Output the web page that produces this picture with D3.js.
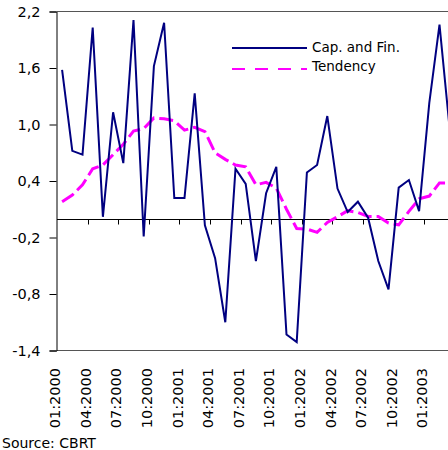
<!DOCTYPE html>
<html>
<head>
<meta charset="utf-8">
<script src="https://cdn.jsdelivr.net/npm/d3@7"></script>
<style>
  html, body { margin: 0; padding: 0; background: #fff; }
  svg { display: block; font-family: "DejaVu Sans", Verdana, sans-serif; }
</style>
</head>
<body>
<svg id="chart" width="448" height="450"></svg>
<script>
// Monthly categories, 01:2000 onwards
const months = [
  "01:2000","02:2000","03:2000","04:2000","05:2000","06:2000","07:2000","08:2000","09:2000","10:2000","11:2000","12:2000",
  "01:2001","02:2001","03:2001","04:2001","05:2001","06:2001","07:2001","08:2001","09:2001","10:2001","11:2001","12:2001",
  "01:2002","02:2002","03:2002","04:2002","05:2002","06:2002","07:2002","08:2002","09:2002","10:2002","11:2002","12:2002",
  "01:2003","02:2003","03:2003"
];

// Capital and financial account series
const capFin = [
  1.58, 0.72, 0.68, 2.03, 0.02, 1.13, 0.59, 2.11, -0.19, 1.62, 2.08, 0.22,
  0.22, 1.33, -0.07, -0.42, -1.10, 0.53, 0.37, -0.45, 0.27, 0.55, -1.23, -1.31,
  0.49, 0.57, 1.09, 0.32, 0.07, 0.18, 0.01, -0.45, -0.75, 0.33, 0.41, 0.08,
  1.23, 2.06, 0.95
];

// Tendency series
const tendency = [
  0.18, 0.25, 0.36, 0.53, 0.57, 0.68, 0.79, 0.93, 0.955, 1.07, 1.06, 1.04,
  0.94, 0.97, 0.925, 0.70, 0.63, 0.57, 0.55, 0.36, 0.385, 0.325, 0.10, -0.105,
  -0.11, -0.145, -0.04, 0.02, 0.085, 0.066, 0.024, 0.024, -0.047, -0.065, 0.077, 0.21,
  0.24, 0.38, 0.38
];

const yTicks = [-1.4, -0.8, -0.2, 0.4, 1.0, 1.6, 2.2];
const yTickLabels = ["-1,4", "-0,8", "-0,2", "0,4", "1,0", "1,6", "2,2"];
const xTickLabels = ["01:2000","04:2000","07:2000","10:2000","01:2001","04:2001","07:2001",
                     "10:2001","01:2002","04:2002","07:2002","10:2002","01:2003"];
const seriesNames = ["Cap. and Fin.", "Tendency"];

const W = 448;
const svg = d3.select("#chart");

const plotLeft = 57, plotTop = 11.5, plotBottom = 350.5, catW = 10.2;

const x = d3.scaleBand().domain(months).range([plotLeft, plotLeft + catW * months.length]).padding(0);
const y = d3.scaleLinear().domain([-1.4, 2.2]).range([plotBottom, plotTop]);
const cx = d => x(d) + x.bandwidth() / 2;

// Plot frame: top and bottom border
svg.append("line").attr("x1", plotLeft).attr("x2", W).attr("y1", plotTop).attr("y2", plotTop)
  .attr("stroke", "#555").attr("stroke-width", 1);
svg.append("line").attr("x1", plotLeft).attr("x2", W).attr("y1", plotBottom).attr("y2", plotBottom)
  .attr("stroke", "#555").attr("stroke-width", 1);

// Value axis
const yAxis = d3.axisLeft(y).tickValues(yTicks)
  .tickFormat((d, i) => yTickLabels[i]).tickSize(7).tickPadding(9);
const gy = svg.append("g").attr("transform", `translate(${plotLeft - 0.5},0)`).call(yAxis);
gy.select(".domain").attr("stroke", "#000");
gy.selectAll(".tick line").attr("stroke", "#000");
gy.selectAll(".tick text").attr("font-size", 14.5).attr("fill", "#000")
  .attr("font-family", "DejaVu Sans, sans-serif");

// Category axis along zero, tick marks every quarter
const y0 = Math.round(y(0)) + 0.5;
const quarterBounds = months.map((m, i) => i).filter(i => i > 0 && i % 3 === 0);
const gx = svg.append("g");
gx.append("line").attr("x1", plotLeft).attr("x2", W).attr("y1", y0).attr("y2", y0)
  .attr("stroke", "#000").attr("stroke-width", 1);
gx.selectAll("line.tk").data(quarterBounds).enter().append("line").attr("class", "tk")
  .attr("x1", i => Math.round(x(months[i])) + 0.5).attr("x2", i => Math.round(x(months[i])) + 0.5)
  .attr("y1", y0).attr("y2", y0 + 5).attr("stroke", "#000");

// Rotated category labels under the plot
svg.append("g").selectAll("text").data(xTickLabels).enter().append("text")
  .attr("transform", d => `translate(${x(d) - 2},368) rotate(-90)`)
  .attr("text-anchor", "end").attr("dy", "0.36em")
  .attr("font-size", 14.5).attr("fill", "#000")
  .text(d => d);

// Series lines
const line = vals => d3.line().x((d, i) => cx(months[i])).y(d => y(d))(vals);

svg.append("path").attr("d", line(tendency))
  .attr("fill", "none").attr("stroke", "#ff00ff").attr("stroke-width", 3)
  .attr("stroke-dasharray", "14,5");

svg.append("path").attr("d", line(capFin))
  .attr("fill", "none").attr("stroke", "#000080").attr("stroke-width", 2)
  .attr("stroke-linejoin", "miter");

// Legend
const lg = svg.append("g");
lg.append("line").attr("x1", 232).attr("x2", 307).attr("y1", 48).attr("y2", 48)
  .attr("stroke", "#000080").attr("stroke-width", 2);
lg.append("line").attr("x1", 232).attr("x2", 307).attr("y1", 69).attr("y2", 69)
  .attr("stroke", "#ff00ff").attr("stroke-width", 2.2).attr("stroke-dasharray", "13,10");
lg.append("text").attr("x", 312).attr("y", 52).attr("font-size", 13.5).text(seriesNames[0]);
lg.append("text").attr("x", 312).attr("y", 71).attr("font-size", 13.5).text(seriesNames[1]);

// Source note
svg.append("text").attr("x", 2).attr("y", 448).attr("font-size", 14).attr("fill", "#000")
  .text("Source: CBRT");
</script>
</body>
</html>
